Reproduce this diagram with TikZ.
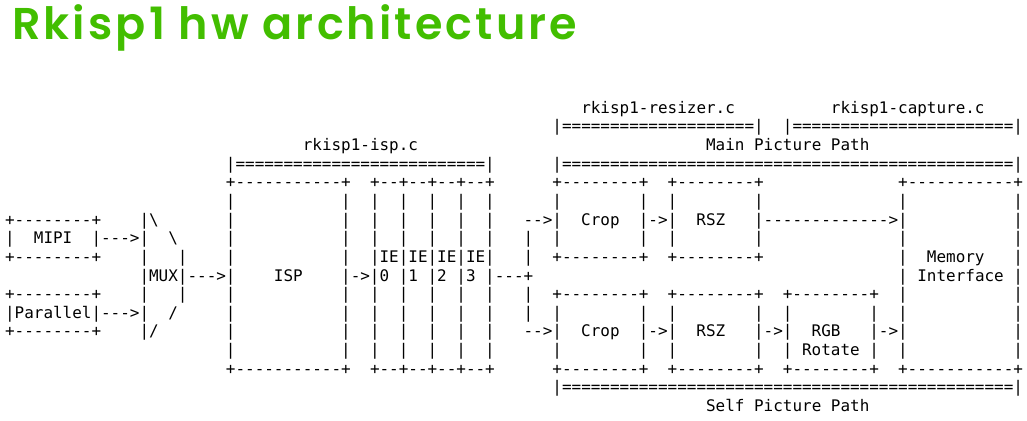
\documentclass[tikz,border=0pt]{standalone}
\usepackage{fontspec}
\setmonofont{DejaVu Sans Mono}
\newfontfamily\titlefont{Poppins}[UprightFont=* SemiBold,LetterSpace=7]
\usepackage{tikz}
\definecolor{rkgreen}{RGB}{66,190,0}

% spaces and backslashes are kept as they are in a row of the drawing
\begingroup\catcode`\ =\active\gdef {\ }\endgroup
\newcommand\asciirow{\begingroup\catcode`\\=12 \catcode`\ =\active\asciirowgo}
\newcommand\asciirowgo[1]{#1\endgroup}

\begin{document}
\begin{tikzpicture}[x=1pt,y=-1pt]
  \tikzstyle{row}=[anchor=base west,inner sep=0pt,
                   font=\ttfamily\fontsize{15.95}{18.64}\selectfont]
  \tikzstyle{heading}=[anchor=base west,inner sep=0pt,text=rkgreen,
                       font=\titlefont\fontsize{44.5}{50}\selectfont]
  \def\cx{4.9}  \def\cw{9.603}
  \def\ry{113.3} \def\rh{18.64}

  \useasboundingbox (0,0) rectangle (1027,420);

  \node[heading] (T) at (12,39.3) {Rkisp1 hw architecture};

  % source file names and the paths they cover
  \node[row] (R0a) at ({\cx+\cw*60},{\ry}) {\asciirow{rkisp1-resizer.c}};
  \node[row] (R0b) at ({\cx+\cw*86},{\ry}) {\asciirow{rkisp1-capture.c}};
  \node[row] (R1)  at ({\cx+\cw*57},{\ry+\rh}) {\asciirow{|====================|  |=======================|}};
  \node[row] (R2a) at ({\cx+\cw*31},{\ry+\rh*2}) {\asciirow{rkisp1-isp.c}};
  \node[row] (R2b) at ({\cx+\cw*73},{\ry+\rh*2}) {\asciirow{Main Picture Path}};
  \node[row] (R3)  at ({\cx+\cw*23},{\ry+\rh*3}) {\asciirow{|==========================|      |===============================================|}};

  % the blocks
  \node[row] (R4)  at ({\cx+\cw*23},{\ry+\rh*4}) {\asciirow{+-----------+  +--+--+--+--+      +--------+  +--------+              +-----------+}};
  \node[row] (R5)  at ({\cx+\cw*23},{\ry+\rh*5}) {\asciirow{|           |  |  |  |  |  |      |        |  |        |              |           |}};
  \node[row] (R6)  at ({\cx},{\ry+\rh*6}) {\asciirow{+--------+    |\       |           |  |  |  |  |  |   -->|  Crop  |->|  RSZ   |------------->|           |}};
  \node[row] (R7)  at ({\cx},{\ry+\rh*7}) {\asciirow{|  MIPI  |--->|  \     |           |  |  |  |  |  |   |  |        |  |        |              |           |}};
  \node[row] (R8)  at ({\cx},{\ry+\rh*8}) {\asciirow{+--------+    |   |    |           |  |IE|IE|IE|IE|   |  +--------+  +--------+              |  Memory   |}};
  \node[row] (R9a) at ({\cx+\cw*14},{\ry+\rh*9}) {\asciirow{|MUX|--->|    ISP    |->|0 |1 |2 |3 |---+}};
  \node[row] (R9b) at ({\cx+\cw*93},{\ry+\rh*9}) {\asciirow{| Interface |}};
  \node[row] (R10) at ({\cx},{\ry+\rh*10}) {\asciirow{+--------+    |   |    |           |  |  |  |  |  |   |  +--------+  +--------+  +--------+  |           |}};
  \node[row] (R11) at ({\cx},{\ry+\rh*11}) {\asciirow{|Parallel|--->|  /     |           |  |  |  |  |  |   |  |        |  |        |  |        |  |           |}};
  \node[row] (R12) at ({\cx},{\ry+\rh*12}) {\asciirow{+--------+    |/       |           |  |  |  |  |  |   -->|  Crop  |->|  RSZ   |->|  RGB   |->|           |}};
  \node[row] (R13) at ({\cx+\cw*23},{\ry+\rh*13}) {\asciirow{|           |  |  |  |  |  |      |        |  |        |  | Rotate |  |           |}};
  \node[row] (R14) at ({\cx+\cw*23},{\ry+\rh*14}) {\asciirow{+-----------+  +--+--+--+--+      +--------+  +--------+  +--------+  +-----------+}};

  % self path
  \node[row] (R15) at ({\cx+\cw*57},{\ry+\rh*15}) {\asciirow{|===============================================|}};
  \node[row] (R16) at ({\cx+\cw*73},{\ry+\rh*16}) {\asciirow{Self Picture Path}};
\end{tikzpicture}
\end{document}
